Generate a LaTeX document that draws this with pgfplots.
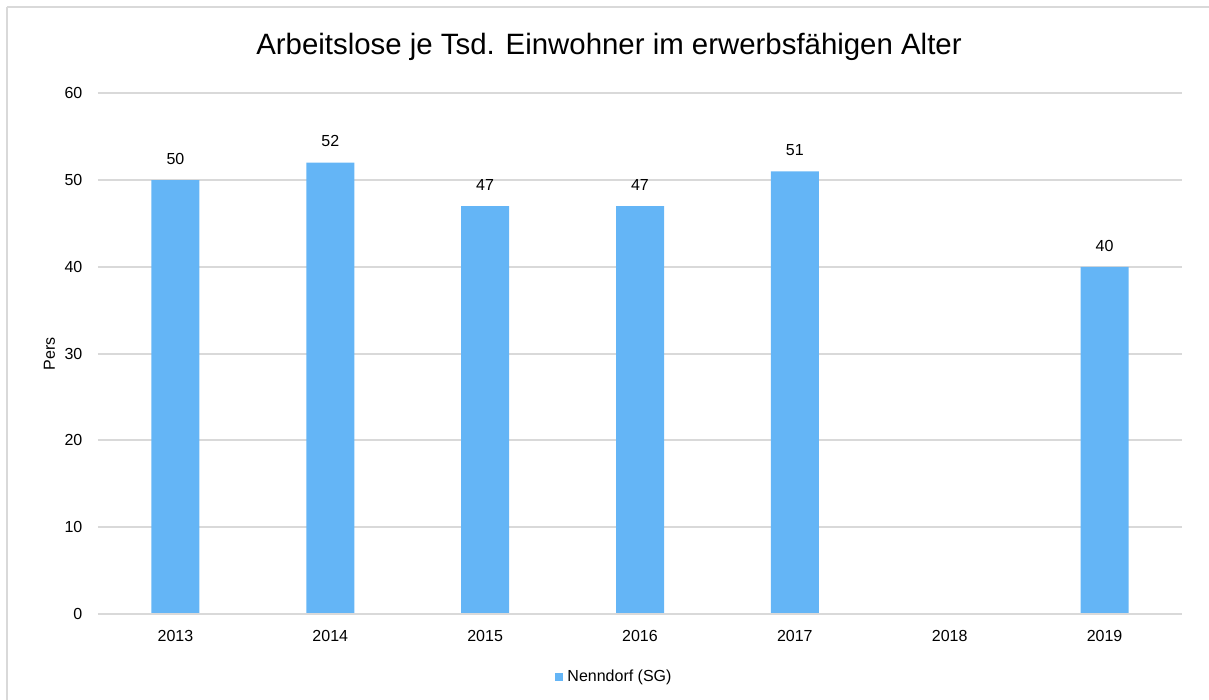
\documentclass[border=0pt]{standalone}
\usepackage{fontspec}
\setmainfont{Liberation Sans}
\usepackage{pgfplots}
\pgfplotsset{compat=1.18}
\definecolor{barblue}{HTML}{64B5F6}
\definecolor{gridgray}{HTML}{D9D9D9}
\begin{document}
\begin{tikzpicture}
% bounding box: image 1209x700 px, 1px = 0.5pt, plot origin at image (98,614)
\path[use as bounding box] (-49pt,307pt) rectangle (555.5pt,-43pt);
\draw[gridgray, line width=1pt] (-45.5pt,303.5pt) -- (560pt,303.5pt);
\draw[gridgray, line width=1pt] (-45.5pt,303.5pt) -- (-45.5pt,-50pt);
\node[anchor=base, font=\fontsize{14.7}{17}\selectfont, inner sep=0pt] at (255.5pt,279.5pt) {Arbeitslose je Tsd. Einwohner im erwerbsfähigen Alter};
\begin{axis}[
  at={(0,0)}, anchor=south west,
  scale only axis,
  width=542pt, height=260.35pt,
  xmin=-0.5, xmax=6.5,
  ymin=0, ymax=60,
  ytick={0,10,20,30,40,50,60},
  xtick={0,1,2,3,4,5,6},
  xticklabels={2013,2014,2015,2016,2017,2018,2019},
  axis line style={draw=none},
  axis x line*=bottom,
  major tick length=0pt,
  ymajorgrids,
  grid style={gridgray, line width=1pt},
  tick label style={font=\fontsize{8}{9.6}\selectfont, text=black},
  /pgf/number format/assume math mode=true,
  yticklabel style={xshift=-4.3pt},
  xticklabel style={yshift=-4.5pt},
  ylabel={Pers},
  ylabel style={font=\fontsize{8}{9.6}\selectfont, at={(axis description cs:0,0.5)}, yshift=24.25pt, anchor=center},
  ybar, bar width=24pt,
  nodes near coords,
  every node near coord/.append style={font=\fontsize{8}{9.6}\selectfont, text=black, yshift=4.3pt},
  legend style={at={(axis description cs:0.4774,-0.121)}, anchor=center, draw=none, fill=none, font=\fontsize{8}{9.6}\selectfont, inner sep=0pt},
  legend image code/.code={\fill[barblue] (0pt,-2pt) rectangle (4pt,2pt);},
  clip=false,
]
\addplot[fill=barblue, draw=none] coordinates {(0,50) (1,52) (2,47) (3,47) (4,51) (6,40)};
\addlegendentry{Nenndorf (SG)}
\draw[gridgray, line width=1pt] (axis cs:-0.5,0) -- (axis cs:6.5,0);
\end{axis}
\end{tikzpicture}
\end{document}
